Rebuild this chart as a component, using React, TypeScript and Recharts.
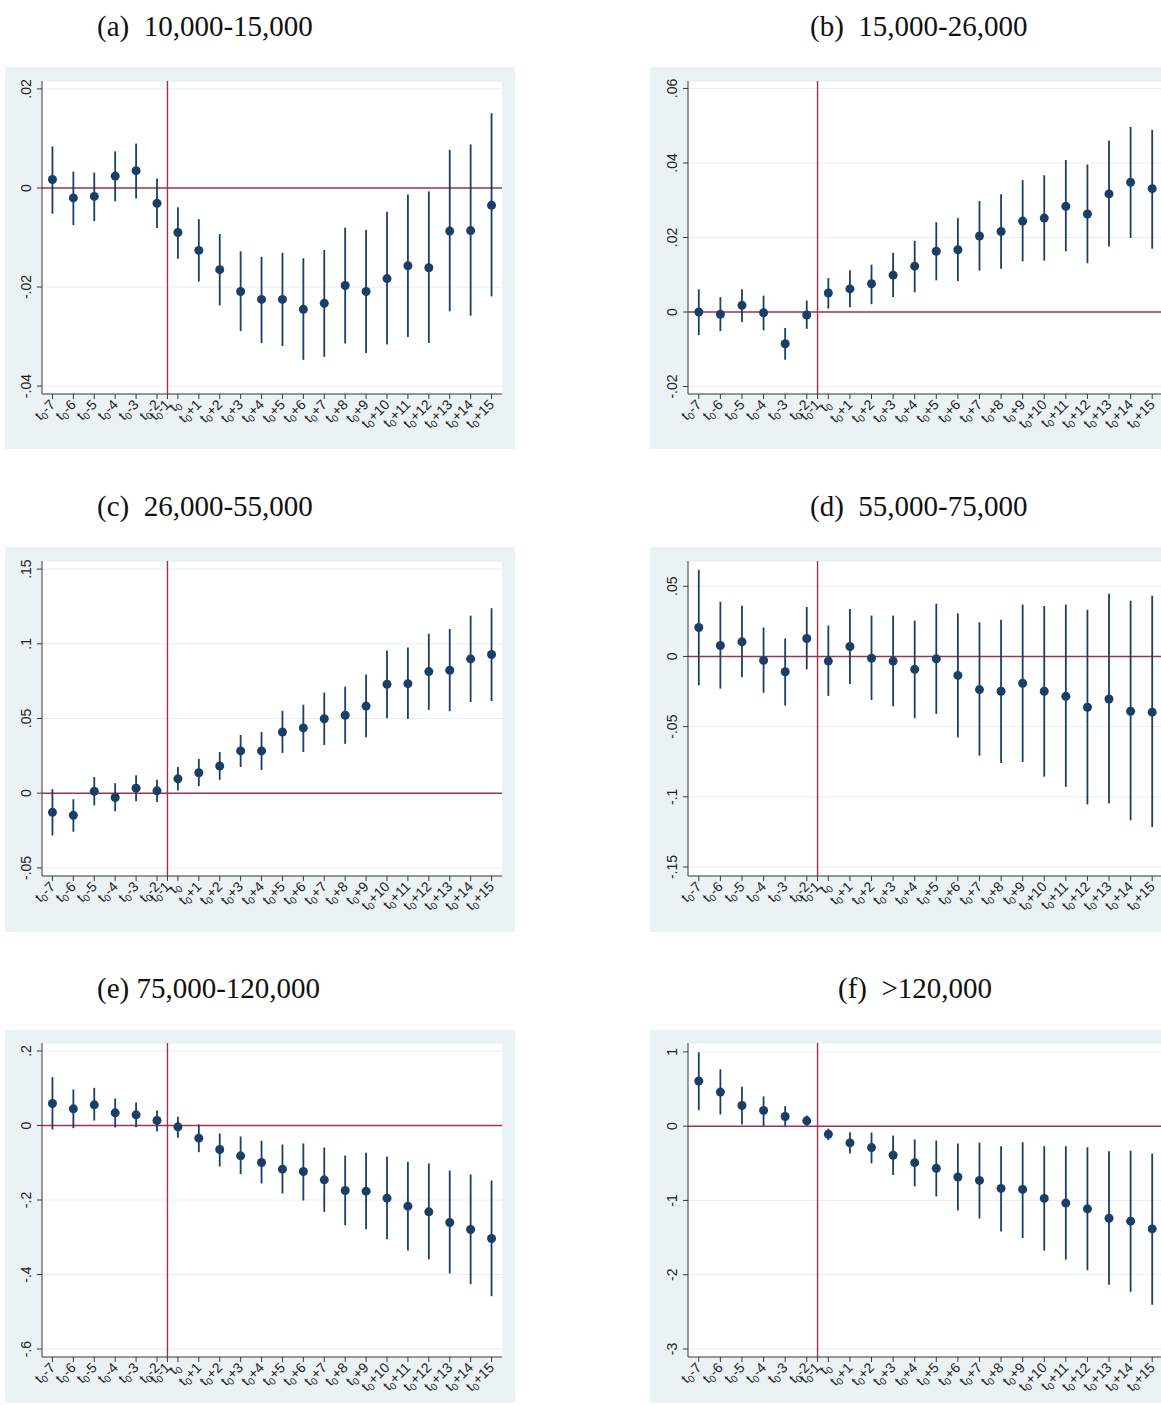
import React from "react";
import { ScatterChart, Scatter, XAxis, YAxis, CartesianGrid, ReferenceLine, ErrorBar } from "recharts";

// event time axis: t0-7 .. t0-2, t0-1 (base period, omitted), t0 .. t0+15
const tickPositions = [1, 2, 3, 4, 5, 6, 6.5, 7, 8, 9, 10, 11, 12, 13, 14, 15, 16, 17, 18, 19, 20, 21, 22];
const tickSuffixes = ["-7", "-6", "-5", "-4", "-3", "-2", "-1", "", "+1", "+2", "+3", "+4", "+5", "+6", "+7", "+8", "+9", "+10", "+11", "+12", "+13", "+14", "+15"];

// (a) 10,000-15,000
const coefA = [0.0017, -0.002, -0.0017, 0.0024, 0.0035, -0.0031, -0.009, -0.0126, -0.0165, -0.0209, -0.0225, -0.0225, -0.0245, -0.0233, -0.0197, -0.0209, -0.0183, -0.0157, -0.0161, -0.0087, -0.0086, -0.0035];
const hiA = [0.0084, 0.0033, 0.0031, 0.0074, 0.009, 0.0019, -0.0039, -0.0063, -0.0093, -0.0128, -0.0139, -0.0131, -0.0142, -0.0125, -0.008, -0.0085, -0.0048, -0.0013, -0.0007, 0.0077, 0.0088, 0.0151];
const loA = [-0.0052, -0.0075, -0.0067, -0.0027, -0.0021, -0.0081, -0.0143, -0.0189, -0.0237, -0.0289, -0.0313, -0.0319, -0.0347, -0.0341, -0.0314, -0.0333, -0.0316, -0.0301, -0.0313, -0.0249, -0.0258, -0.0219];

// (b) 15,000-26,000
const coefB = [0.0, -0.0006, 0.0018, -0.0002, -0.0085, -0.0008, 0.0051, 0.0062, 0.0076, 0.0099, 0.0123, 0.0163, 0.0167, 0.0204, 0.0216, 0.0244, 0.0252, 0.0284, 0.0263, 0.0317, 0.0348, 0.0331];
const hiB = [0.0061, 0.004, 0.0061, 0.0044, -0.0043, 0.0031, 0.0091, 0.0112, 0.0127, 0.0159, 0.0191, 0.0241, 0.0252, 0.0298, 0.0316, 0.0354, 0.0367, 0.0408, 0.0396, 0.046, 0.0497, 0.0489];
const loB = [-0.0062, -0.0051, -0.0027, -0.0049, -0.0128, -0.0045, 0.0009, 0.0013, 0.0021, 0.004, 0.0053, 0.0085, 0.0083, 0.0111, 0.0116, 0.0136, 0.0138, 0.0163, 0.0131, 0.0176, 0.0199, 0.017];

// (c) 26,000-55,000
const coefC = [-0.0128, -0.0148, 0.0013, -0.0029, 0.0034, 0.0016, 0.0096, 0.0137, 0.0182, 0.0283, 0.0283, 0.041, 0.0437, 0.0498, 0.0522, 0.0583, 0.0729, 0.0733, 0.0814, 0.0823, 0.0899, 0.0928];
const hiC = [0.0027, -0.004, 0.0108, 0.0067, 0.0121, 0.009, 0.0175, 0.0229, 0.0276, 0.039, 0.041, 0.0552, 0.0592, 0.0673, 0.0713, 0.0794, 0.0955, 0.0975, 0.1067, 0.1099, 0.1188, 0.1238];
const loC = [-0.0283, -0.0258, -0.0081, -0.0121, -0.0054, -0.0058, 0.0018, 0.0047, 0.009, 0.0175, 0.0155, 0.0269, 0.0276, 0.0323, 0.033, 0.0374, 0.0502, 0.0496, 0.0558, 0.0549, 0.061, 0.0617];

// (d) 55,000-75,000
const coefD = [0.0206, 0.0078, 0.0104, -0.0028, -0.0109, 0.0128, -0.0033, 0.0071, -0.0012, -0.0033, -0.0092, -0.0017, -0.0135, -0.0236, -0.0248, -0.0191, -0.0248, -0.0284, -0.0362, -0.0303, -0.039, -0.0397];
const hiD = [0.0617, 0.039, 0.0362, 0.0206, 0.0128, 0.0352, 0.022, 0.0338, 0.0291, 0.0291, 0.0255, 0.0376, 0.0307, 0.0243, 0.0262, 0.0369, 0.0359, 0.0369, 0.0333, 0.0447, 0.0397, 0.0433];
const loD = [-0.0206, -0.0229, -0.0149, -0.0258, -0.035, -0.0092, -0.0281, -0.0196, -0.031, -0.0355, -0.044, -0.0409, -0.0577, -0.0707, -0.0759, -0.0752, -0.0856, -0.0929, -0.1054, -0.1047, -0.1168, -0.1215];

// (e) 75,000-120,000
const coefE = [0.0591, 0.0447, 0.0555, 0.034, 0.0286, 0.0134, -0.0036, -0.034, -0.0644, -0.0814, -0.0993, -0.1172, -0.1235, -0.1459, -0.1745, -0.1763, -0.1951, -0.2166, -0.2318, -0.2604, -0.2792, -0.3034];
const hiE = [0.1298, 0.0966, 0.1011, 0.0725, 0.0617, 0.0403, 0.0233, 0.0027, -0.0215, -0.0295, -0.0412, -0.051, -0.0483, -0.0591, -0.0805, -0.0734, -0.0832, -0.0975, -0.102, -0.1208, -0.1315, -0.1477];
const loE = [-0.0107, -0.0072, 0.0134, -0.0054, -0.0045, -0.0161, -0.0331, -0.0716, -0.1101, -0.1306, -0.1557, -0.1826, -0.2013, -0.2318, -0.2676, -0.2783, -0.3052, -0.3356, -0.3597, -0.3973, -0.426, -0.4582];

// (f) >120,000
const coefF = [0.608, 0.459, 0.279, 0.212, 0.131, 0.072, -0.108, -0.225, -0.288, -0.392, -0.491, -0.568, -0.685, -0.73, -0.838, -0.851, -0.973, -1.036, -1.113, -1.239, -1.279, -1.383];
const hiF = [0.995, 0.766, 0.532, 0.401, 0.27, 0.144, -0.032, -0.081, -0.086, -0.126, -0.18, -0.194, -0.234, -0.221, -0.27, -0.216, -0.27, -0.27, -0.284, -0.338, -0.329, -0.369];
const loF = [0.216, 0.158, 0.023, 0.005, 0.005, 0.005, -0.189, -0.369, -0.5, -0.658, -0.811, -0.946, -1.135, -1.243, -1.419, -1.505, -1.676, -1.797, -1.941, -2.135, -2.23, -2.405];

const BG = "#eaf2f3";
const NAVY = "#1a3f66";
const RED = "#9c3450";
const AXIS = "#3a3a3a";
const SANS = "'Liberation Sans', Arial, sans-serif";
const SERIF = "'Liberation Serif', 'Times New Roman', serif";

// stata-style number labels: .02, -.04, 0, 1
const fmt = (v: number) => String(v).replace(/^(-?)0\./, "$1.");

function EventTick(props: any) {
  const { x, y, payload } = props;
  const suffix = tickSuffixes[tickPositions.indexOf(payload.value)];
  return (
    <g transform={`translate(${x},${y}) rotate(-45)`}>
      <text textAnchor="end" dy="0.35em" fontSize={14} fill="#222" fontFamily={SANS}>
        t
        <tspan fontSize={10} dy={3}>0</tspan>
        <tspan dy={-3}>{suffix}</tspan>
      </text>
    </g>
  );
}

function ValueTick(props: any) {
  const { x, y, payload } = props;
  return (
    <text x={x} y={y} transform={`rotate(-90 ${x} ${y})`} textAnchor="middle" fontSize={14} fill="#222" fontFamily={SANS}>
      {fmt(payload.value)}
    </text>
  );
}

function Dot(props: any) {
  return <circle cx={props.cx} cy={props.cy} r={4.5} fill={NAVY} />;
}

interface PanelProps {
  title: string;
  titleX: number;
  titleY: number;
  left: number;
  top: number;
  width: number;
  height: number;
  plotTop: number;
  axisH: number;
  yWidth: number;
  coef: number[];
  lo: number[];
  hi: number[];
  yTicks: number[];
  yDomain: [number, number];
}

function Panel(p: PanelProps) {
  const rows = p.coef.map((c, i) => ({ x: i + 1, coef: c, ci: [c - p.lo[i], p.hi[i] - c] }));
  return (
    <>
      <div
        style={{
          position: "absolute",
          left: p.titleX,
          top: p.titleY,
          fontFamily: SERIF,
          fontSize: 29,
          lineHeight: "29px",
          whiteSpace: "pre",
          color: "#111",
        }}
      >
        {p.title}
      </div>
      <div style={{ position: "absolute", left: p.left, top: p.top, width: p.width, height: p.height, background: BG }}>
        <ScatterChart width={p.width} height={p.height} margin={{ top: p.plotTop, right: 13, bottom: 0, left: 0 }}>
          <CartesianGrid vertical={false} stroke="#e6eeee" strokeWidth={1} fill="#fff" />
          <XAxis
            type="number"
            dataKey="x"
            domain={[0.5, 22.5]}
            ticks={tickPositions}
            interval={0}
            height={p.axisH}
            tick={<EventTick />}
            tickSize={5}
            tickMargin={3}
            stroke={AXIS}
            allowDataOverflow
          />
          <YAxis
            type="number"
            dataKey="coef"
            domain={p.yDomain}
            ticks={p.yTicks}
            interval={0}
            width={p.yWidth}
            tick={<ValueTick />}
            tickSize={5}
            tickMargin={6}
            stroke={AXIS}
            allowDataOverflow
          />
          <ReferenceLine y={0} stroke={RED} strokeWidth={1.4} />
          <ReferenceLine x={6.5} stroke={RED} strokeWidth={1.4} />
          <Scatter data={rows} shape={<Dot />} isAnimationActive={false}>
            <ErrorBar dataKey="ci" direction="y" width={0} stroke={NAVY} strokeWidth={1.8} isAnimationActive={false} />
          </Scatter>
        </ScatterChart>
      </div>
    </>
  );
}

const LEFT = { left: 5, width: 510, yWidth: 37 };
const RIGHT = { left: 650, width: 526, yWidth: 38 };

export default function App() {
  return (
    <div style={{ position: "absolute", left: 0, top: 0, width: 1161, height: 1405, overflow: "hidden", background: "#fff" }}>
      <Panel title="(a)  10,000-15,000" titleX={97} titleY={12} left={LEFT.left} top={67} width={LEFT.width} height={382}
        plotTop={14} axisH={55} yWidth={LEFT.yWidth} coef={coefA} lo={loA} hi={hiA}
        yTicks={[-0.04, -0.02, 0, 0.02]} yDomain={[-0.0416, 0.0216]} />
      <Panel title="(b)  15,000-26,000" titleX={810} titleY={12} left={RIGHT.left} top={67} width={RIGHT.width} height={382}
        plotTop={14} axisH={55} yWidth={RIGHT.yWidth} coef={coefB} lo={loB} hi={hiB}
        yTicks={[-0.02, 0, 0.02, 0.04, 0.06]} yDomain={[-0.022, 0.062]} />
      <Panel title="(c)  26,000-55,000" titleX={97} titleY={492} left={LEFT.left} top={547} width={LEFT.width} height={385}
        plotTop={14} axisH={56} yWidth={LEFT.yWidth} coef={coefC} lo={loC} hi={hiC}
        yTicks={[-0.05, 0, 0.05, 0.1, 0.15]} yDomain={[-0.0554, 0.1554]} />
      <Panel title="(d)  55,000-75,000" titleX={810} titleY={492} left={RIGHT.left} top={547} width={RIGHT.width} height={385}
        plotTop={14} axisH={56} yWidth={RIGHT.yWidth} coef={coefD} lo={loD} hi={hiD}
        yTicks={[-0.15, -0.1, -0.05, 0, 0.05]} yDomain={[-0.1564, 0.068]} />
      <Panel title="(e) 75,000-120,000" titleX={97} titleY={974} left={LEFT.left} top={1030} width={LEFT.width} height={373}
        plotTop={13} axisH={46} yWidth={LEFT.yWidth} coef={coefE} lo={loE} hi={hiE}
        yTicks={[-0.6, -0.4, -0.2, 0, 0.2]} yDomain={[-0.6214, 0.2214]} />
      <Panel title="(f)  >120,000" titleX={838} titleY={974} left={RIGHT.left} top={1030} width={RIGHT.width} height={373}
        plotTop={13} axisH={46} yWidth={RIGHT.yWidth} coef={coefF} lo={loF} hi={hiF}
        yTicks={[-3, -2, -1, 0, 1]} yDomain={[-3.108, 1.12]} />
    </div>
  );
}
